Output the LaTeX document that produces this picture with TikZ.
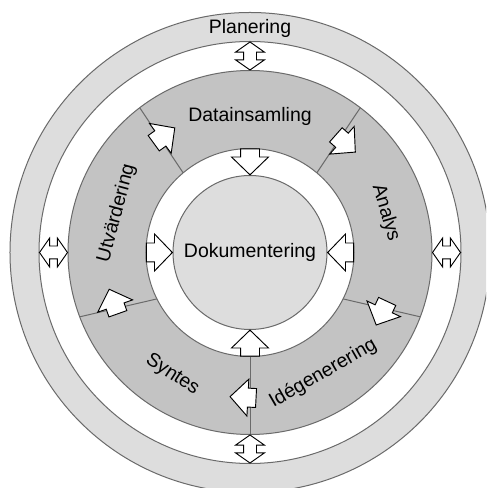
\documentclass[tikz,border=0pt]{standalone}
\usepackage{fontspec}
\setmainfont{Liberation Sans}
\usetikzlibrary{shapes.arrows,calc}
\definecolor{ringlight}{HTML}{DDDDDD}
\definecolor{ringmid}{HTML}{C3C3C3}
\definecolor{edgegray}{HTML}{6A6A6A}
\begin{document}
\begin{tikzpicture}[x=0.75pt,y=0.75pt,
  ringedge/.style={draw=edgegray, line width=0.75pt},
  divider/.style={draw=edgegray, line width=0.75pt},
  flowarrow/.style={single arrow, draw=black, fill=white, line width=0.7pt,
    inner xsep=0pt, inner ysep=6.75pt, minimum height=19.5pt,
    single arrow head extend=6.75pt, single arrow tip angle=92},
  linkarrow/.style={double arrow, draw=black, fill=white, line width=0.7pt,
    inner xsep=0pt, inner ysep=4.5pt, minimum height=21pt,
    double arrow head extend=6pt, double arrow tip angle=110},
  label/.style={font=\fontsize{14.6}{17}\selectfont, inner sep=0pt}
]
\useasboundingbox (-250,-235.5) rectangle (236,252.5);
\clip (-250,-235.5) rectangle (236,252.5);

% rings, from the outside in
\fill[white] (-250,-235.5) rectangle (236,252.5);
\filldraw[ringedge, fill=ringlight] (0,0) circle (240);
\filldraw[ringedge, fill=white] (0,0) circle (211);
\filldraw[ringedge, fill=ringmid] (0,0) circle (182);

% borders between the five phases
\draw[divider] (130:104) -- (127.3:182);
\draw[divider] (50:104) -- (52.7:182);
\draw[divider] (-26.5:104) -- (-20.7:182);
\draw[divider] (206.5:104) -- (200.7:182);
\draw[divider] (270:104) -- (270:182);

\filldraw[ringedge, fill=white] (0,0) circle (104);
\filldraw[ringedge, fill=ringlight] (0,0) circle (77);

% labels
\node[label] (plan) at (90:224) {Planering};
\node[label] (dok) at (0,0) {Dokumentering};
\node[label] (data) at (90:136) {Datainsamling};
\node[label, rotate=-73.7] (ana) at (16.3:141.4) {Analys};
\node[label, rotate=30] (ide) at (-58.8:141.3) {Idégenerering};
\node[label, rotate=-33] (syn) at (237.6:145) {Syntes};
\node[label, rotate=75] (utv) at (163.6:139) {Utvärdering};

% links between planning and the phase ring
\node[linkarrow, rotate=90] (pN) at (90:196.5) {};
\node[linkarrow, rotate=90] (pS) at (270:196.5) {};
\node[linkarrow] (pW) at (180:196.5) {};
\node[linkarrow] (pE) at (0:196.5) {};

% every phase feeds the documentation
\node[flowarrow, rotate=-90, anchor=tip] (dN) at (90:77) {};
\node[flowarrow, rotate=0, anchor=tip] (dW) at (180:77) {};
\node[flowarrow, rotate=180, anchor=tip] (dE) at (0:77) {};
\node[flowarrow, rotate=90, anchor=tip] (dS) at (270:77) {};

% the cycle through the phases
\node[flowarrow, rotate=36, anchor=tip] (c1) at ($(126:145)+(36:13)$) {};
\node[flowarrow, rotate=-41.5, anchor=tip] (c2) at ($(48.5:145)+(-41.5:13)$) {};
\node[flowarrow, rotate=-115, anchor=tip] (c3) at ($(-25:145)+(-115:13)$) {};
\node[flowarrow, rotate=177, anchor=tip] (c4) at ($(267:145)+(177:13)$) {};
\node[flowarrow, rotate=109.5, anchor=tip] (c5) at ($(199.5:145)+(109.5:13)$) {};
\end{tikzpicture}
\end{document}
